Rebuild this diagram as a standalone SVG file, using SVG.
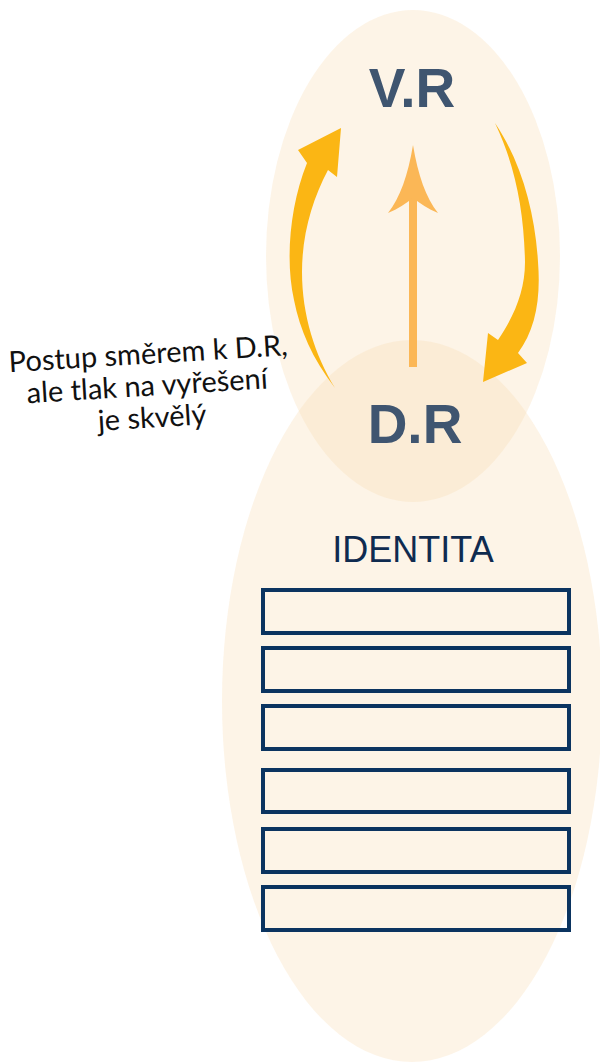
<svg xmlns="http://www.w3.org/2000/svg" width="600" height="1063" viewBox="0 0 600 1063">
<style>
.blob{fill:#F8D9AE;fill-opacity:0.3}
.big{font-family:"Liberation Sans",Arial,sans-serif;font-weight:bold;font-size:55px;fill:#3F5570;text-anchor:middle}
.box{fill:none;stroke:#0B3460;stroke-width:4}
.note{font-family:Lato,"Noto Sans",sans-serif;font-size:29px;fill:#111;text-anchor:middle}
</style>
<rect width="600" height="1063" fill="#fff"/>
<g id="ellipse-top"><ellipse class="blob" cx="413" cy="256" rx="147" ry="246"/></g>
<g id="ellipse-bottom"><ellipse class="blob" cx="412" cy="701" rx="190" ry="361"/></g>
<g id="connectors">
<path d="M335,388 C312,358 300,330 294,300 C285,260 290,205 307,163 L298,150 L341,128 L337,177 L328,170 C312,200 302,235 302,272 C302,315 315,355 335,388 Z" fill="#FBB614"/>
<path d="M495,123 C520,160 535,210 538,262 C541,300 535,330 518,353 L527,363 L483,382 L488,333 L498,340 C515,315 525,290 525,262 C524,210 515,165 495,123 Z" fill="#FBB614"/>
<rect x="409" y="198" width="8" height="169" fill="#FBB756"/>
<path d="M413,145 C418,175 426,198 438,213 C428,209 420,203 413,198 C406,203 398,209 388,213 C400,198 408,175 413,145 Z" fill="#FBB756"/>
</g>
<g id="node-vr"><text class="big" x="412" y="107">V.R</text></g>
<g id="node-dr"><text class="big" x="415" y="443">D.R</text></g>
<g id="node-identita">
<text x="413" y="562" font-family="'Liberation Sans',Arial,sans-serif" font-size="36" fill="#0F2B50" text-anchor="middle">IDENTITA</text>
<rect class="box" x="263" y="590" width="306" height="43"/>
<rect class="box" x="263" y="648" width="306" height="43"/>
<rect class="box" x="263" y="706" width="306" height="43"/>
<rect class="box" x="263" y="770" width="306" height="42"/>
<rect class="box" x="263" y="829" width="306" height="43"/>
<rect class="box" x="263" y="887" width="306" height="43"/>
</g>
<g id="note" transform="rotate(-3.5 13 372)">
<text class="note" x="149" y="372">Postup směrem k D.R,</text>
<text class="note" x="146" y="404">ale tlak na vyřešení</text>
<text class="note" x="149" y="436">je skvělý</text>
</g>
</svg>
